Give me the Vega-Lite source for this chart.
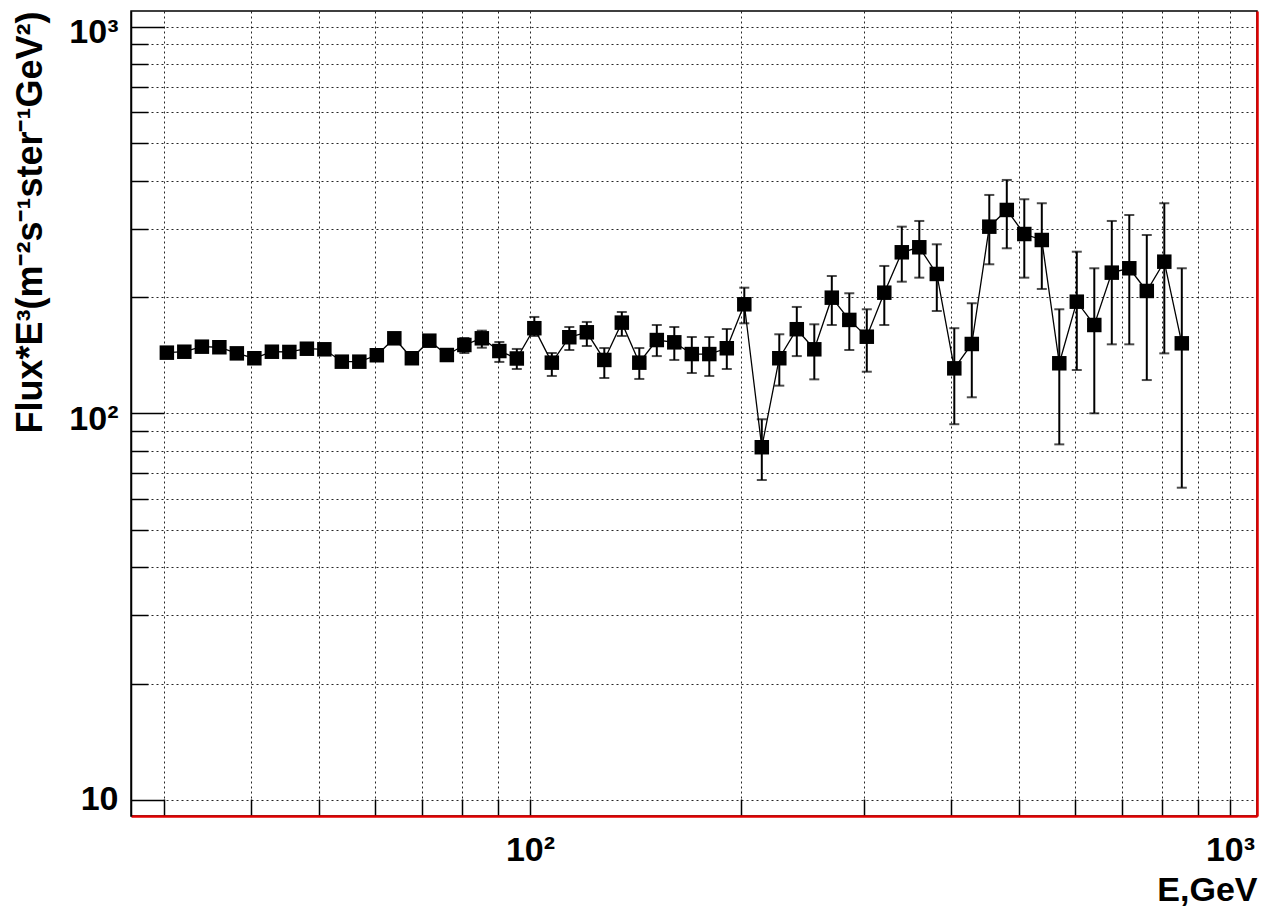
{
  "$schema": "https://vega.github.io/schema/vega-lite/v6.json",
  "width": 1126,
  "height": 805,
  "autosize": {"type": "none"},
  "padding": {"left": 131, "top": 11, "right": 11, "bottom": 91},
  "background": "white",
  "config": {
    "view": {"stroke": "black", "strokeWidth": 1.5},
    "font": "Liberation Sans"
  },
  "data": {
    "values": [
      {"E": 30.29, "F": 143.5, "lo": 141.5, "hi": 145.5},
      {"E": 32.08, "F": 144.3, "lo": 142.3, "hi": 146.3},
      {"E": 33.99, "F": 148.7, "lo": 146.5, "hi": 150.9},
      {"E": 36.00, "F": 148.2, "lo": 146.0, "hi": 150.4},
      {"E": 38.13, "F": 142.9, "lo": 140.8, "hi": 145.0},
      {"E": 40.39, "F": 138.8, "lo": 136.6, "hi": 141.0},
      {"E": 42.79, "F": 144.3, "lo": 142.0, "hi": 146.6},
      {"E": 45.32, "F": 144.1, "lo": 141.8, "hi": 146.4},
      {"E": 48.01, "F": 146.9, "lo": 144.4, "hi": 149.4},
      {"E": 50.85, "F": 146.4, "lo": 143.9, "hi": 148.9},
      {"E": 53.86, "F": 136.0, "lo": 133.5, "hi": 138.5},
      {"E": 57.05, "F": 136.0, "lo": 133.3, "hi": 138.7},
      {"E": 60.43, "F": 141.3, "lo": 138.3, "hi": 144.3},
      {"E": 64.01, "F": 156.3, "lo": 152.8, "hi": 159.8},
      {"E": 67.81, "F": 138.8, "lo": 135.5, "hi": 142.1},
      {"E": 71.82, "F": 154.1, "lo": 150.3, "hi": 157.9},
      {"E": 76.08, "F": 141.5, "lo": 137.6, "hi": 145.4},
      {"E": 80.59, "F": 150.2, "lo": 143.2, "hi": 156.6},
      {"E": 85.36, "F": 156.3, "lo": 147.8, "hi": 163.6},
      {"E": 90.42, "F": 144.9, "lo": 135.8, "hi": 152.9},
      {"E": 95.77, "F": 138.6, "lo": 130.2, "hi": 146.7},
      {"E": 101.45, "F": 166.0, "lo": 158.5, "hi": 177.5},
      {"E": 107.46, "F": 135.2, "lo": 124.9, "hi": 143.2},
      {"E": 113.82, "F": 157.3, "lo": 145.8, "hi": 167.2},
      {"E": 120.57, "F": 162.0, "lo": 149.3, "hi": 172.3},
      {"E": 127.71, "F": 137.4, "lo": 123.4, "hi": 147.5},
      {"E": 135.28, "F": 171.6, "lo": 158.5, "hi": 182.8},
      {"E": 143.29, "F": 135.2, "lo": 122.7, "hi": 147.5},
      {"E": 151.78, "F": 154.7, "lo": 140.6, "hi": 169.2},
      {"E": 160.77, "F": 152.6, "lo": 137.4, "hi": 167.2},
      {"E": 170.30, "F": 142.3, "lo": 127.1, "hi": 157.5},
      {"E": 180.39, "F": 142.3, "lo": 124.9, "hi": 157.5},
      {"E": 191.08, "F": 147.3, "lo": 130.2, "hi": 165.2},
      {"E": 202.40, "F": 191.4, "lo": 170.9, "hi": 211.3},
      {"E": 214.39, "F": 81.7, "lo": 67.2, "hi": 96.5},
      {"E": 227.09, "F": 138.8, "lo": 117.9, "hi": 160.1},
      {"E": 240.55, "F": 165.0, "lo": 140.6, "hi": 188.4},
      {"E": 254.80, "F": 146.4, "lo": 122.4, "hi": 169.9},
      {"E": 269.90, "F": 199.1, "lo": 169.2, "hi": 226.5},
      {"E": 285.89, "F": 174.4, "lo": 145.8, "hi": 204.4},
      {"E": 302.83, "F": 157.8, "lo": 128.1, "hi": 185.8},
      {"E": 320.77, "F": 205.1, "lo": 169.2, "hi": 240.5},
      {"E": 339.78, "F": 260.9, "lo": 219.0, "hi": 303.9},
      {"E": 359.91, "F": 268.8, "lo": 224.3, "hi": 314.4},
      {"E": 381.24, "F": 229.3, "lo": 183.9, "hi": 273.6},
      {"E": 403.83, "F": 130.7, "lo": 93.7, "hi": 166.0},
      {"E": 427.75, "F": 151.1, "lo": 110.0, "hi": 192.6},
      {"E": 453.10, "F": 303.9, "lo": 242.9, "hi": 367.1},
      {"E": 479.95, "F": 335.7, "lo": 267.2, "hi": 401.4},
      {"E": 508.38, "F": 290.9, "lo": 224.3, "hi": 357.8},
      {"E": 538.51, "F": 280.7, "lo": 209.7, "hi": 349.4},
      {"E": 570.41, "F": 134.7, "lo": 83.1, "hi": 185.8},
      {"E": 604.21, "F": 194.4, "lo": 129.4, "hi": 261.8},
      {"E": 640.01, "F": 169.2, "lo": 100.0, "hi": 237.2},
      {"E": 677.93, "F": 231.1, "lo": 150.8, "hi": 314.4},
      {"E": 718.10, "F": 237.2, "lo": 150.8, "hi": 325.8},
      {"E": 760.65, "F": 207.2, "lo": 121.9, "hi": 289.2},
      {"E": 805.72, "F": 246.7, "lo": 142.9, "hi": 349.4},
      {"E": 853.46, "F": 151.7, "lo": 64.2, "hi": 237.2}
    ]
  },
  "resolve": {"axis": {"y": "independent"}},
  "layer": [
    {
      "mark": {"type": "line", "color": "black", "strokeWidth": 1.3},
      "encoding": {
        "x": {
          "field": "E", "type": "quantitative",
          "scale": {"type": "log", "domain": [26.92, 1093], "nice": false},
          "axis": {
            "orient": "bottom",
            "values": [30, 40, 50, 60, 70, 80, 90, 100, 200, 300, 400, 500, 600, 700, 800, 900, 1000],
            "labelExpr": "datum.value == 100 ? '10²' : (datum.value == 1000 ? '10³' : '')",
            "labelFont": "Liberation Sans", "labelFontWeight": "bold", "labelFontSize": 34,
            "labelColor": "black", "labelFlush": false, "labelOverlap": false,
            "labelPadding": 34, "labelBaseline": "top",
            "tickSize": -17, "tickWidth": 1.5, "tickColor": "black",
            "domainColor": "#e00000", "domainWidth": 2.5,
            "grid": true, "gridColor": "black", "gridDash": [2, 3], "gridWidth": 1, "gridOpacity": 0.85,
            "title": "E,GeV", "titleFont": "Liberation Sans", "titleFontWeight": "bold", "titleFontSize": 34,
            "titleColor": "black", "titleAnchor": "end", "titlePadding": 6
          }
        },
        "y": {
          "field": "F", "type": "quantitative",
          "scale": {"type": "log", "domain": [9.085, 1098], "nice": false},
          "axis": {
            "orient": "left",
            "values": [10, 20, 30, 40, 50, 60, 70, 80, 90, 100, 200, 300, 400, 500, 600, 700, 800, 900, 1000],
            "labelExpr": "datum.value == 10 ? '10' : (datum.value == 100 ? '10²' : (datum.value == 1000 ? '10³' : ''))",
            "labelFont": "Liberation Sans", "labelFontWeight": "bold", "labelFontSize": 34,
            "labelColor": "black", "labelFlush": false, "labelOverlap": false,
            "labelPadding": 46, "labelBaseline": "middle",
            "labelOffset": {"condition": {"test": "datum.value == 10", "value": 0}, "value": 6},
            "tickSize": {"condition": {"test": "datum.value == 10 || datum.value == 100 || datum.value == 1000", "value": -33}, "value": -17},
            "tickWidth": 1.5, "tickColor": "black",
            "domainColor": "black", "domainWidth": 1.5,
            "grid": true, "gridColor": "black", "gridDash": [2, 3], "gridWidth": 1, "gridOpacity": 0.85,
            "title": "Flux*E³(m⁻²s⁻¹ster⁻¹GeV²)", "titleFont": "Liberation Sans", "titleFontWeight": "bold", "titleFontSize": 36,
            "titleColor": "black", "titleAnchor": "end", "titlePadding": 19
          }
        }
      }
    },
    {
      "mark": {"type": "rule", "color": "black", "strokeWidth": 2},
      "encoding": {
        "x": {"field": "E", "type": "quantitative"},
        "y": {"field": "lo", "type": "quantitative",
          "axis": {"orient": "right", "ticks": false, "labels": false, "grid": false, "title": null,
                   "domainColor": "#e00000", "domainWidth": 2.5}},
        "y2": {"field": "hi"}
      }
    },
    {
      "mark": {"type": "tick", "orient": "horizontal", "color": "black", "size": 10, "thickness": 2},
      "encoding": {
        "x": {"field": "E", "type": "quantitative"},
        "y": {"field": "lo", "type": "quantitative", "axis": null}
      }
    },
    {
      "mark": {"type": "tick", "orient": "horizontal", "color": "black", "size": 10, "thickness": 2},
      "encoding": {
        "x": {"field": "E", "type": "quantitative"},
        "y": {"field": "hi", "type": "quantitative", "axis": null}
      }
    },
    {
      "mark": {"type": "point", "shape": "square", "filled": true, "color": "black", "opacity": 1, "size": 210},
      "encoding": {
        "x": {"field": "E", "type": "quantitative"},
        "y": {"field": "F", "type": "quantitative", "axis": null}
      }
    }
  ]
}
